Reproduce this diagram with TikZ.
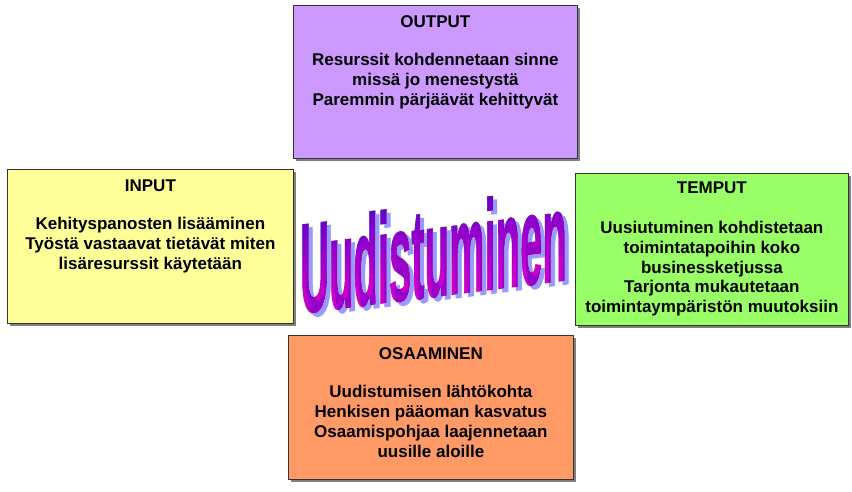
\documentclass[tikz,border=0pt]{standalone}
\usepackage{fontspec}
\setmainfont{Liberation Sans}
\newfontfamily\wordfont[FakeBold=1.5]{Liberation Sans Bold}
\usetikzlibrary{shadows}

\definecolor{outputfill}{HTML}{CC99FF}
\definecolor{inputfill}{HTML}{FFFF99}
\definecolor{temputfill}{HTML}{99FF66}
\definecolor{osaaminenfill}{HTML}{FF9966}
\definecolor{wordtop}{HTML}{6000CC}
\definecolor{wordbottom}{HTML}{CC00CC}
\definecolor{wordshadow}{HTML}{9999FF}

\begin{document}
\begin{tikzpicture}[
        x=1pt, y=-1pt,
        box/.style={draw=black!80, line width=0.8pt, inner sep=0pt, anchor=north west,
            drop shadow={shadow xshift=3pt, shadow yshift=-3pt, fill=black!50, opacity=1}},
        boxtext/.style={inner sep=0pt, anchor=north, align=center,
            font=\fontsize{17}{20}\selectfont\bfseries},
        word/.style={inner sep=0pt, anchor=base west, yscale=3.18, transform shape,
            font=\fontsize{40}{40}\selectfont\wordfont}
    ]
    \useasboundingbox (0,0) rectangle (852,491);

    \node[box, fill=outputfill, minimum width=284pt, minimum height=153pt] (output) at (293,5) {};
    \node[box, fill=inputfill, minimum width=286pt, minimum height=154pt] (input) at (7,169) {};
    \node[box, fill=temputfill, minimum width=273pt, minimum height=152pt] (temput) at (575,173) {};
    \node[box, fill=osaaminenfill, minimum width=285pt, minimum height=144pt] (osaaminen) at (288,335) {};

    \node[boxtext] (outputtext) at ([yshift=-10pt]output.north)
        {OUTPUT\\[18pt] Resurssit kohdennetaan sinne\\ missä jo menestystä\\ Paremmin pärjäävät kehittyvät};
    \node[boxtext] (inputtext) at ([yshift=-11pt]input.north)
        {INPUT\\[18pt] Kehityspanosten lisääminen\\ Työstä vastaavat tietävät miten\\ lisäresurssit käytetään};
    \node[boxtext, font=\fontsize{17}{19.7}\selectfont\bfseries] (temputtext) at ([yshift=-9pt]temput.north)
        {TEMPUT\\[20pt] Uusiutuminen kohdistetaan\\ toimintatapoihin koko\\ businessketjussa\\
         Tarjonta mukautetaan\\ toimintaympäristön muutoksiin};
    \node[boxtext] (osaaminentext) at ([yshift=-12pt]osaaminen.north)
        {OSAAMINEN\\[18pt] Uudistumisen lähtökohta\\ Henkisen pääoman kasvatus\\
         Osaamispohjaa laajennetaan\\ uusille aloille};

    % slanted word in the middle, shadow first, then the shaded letters
    \begin{scope}[shift={(300,313)}, yslant=0.125]
        \begin{scope}[shift={(4,4)}]
            \node[word, text=wordshadow] (wordshadow) at (0,0) {Uudistuminen};
        \end{scope}
        \begin{scope}[transparency group, blend mode=darken]
            \fill[white] (-6,-106) rectangle (275,14);
            \node[word, text=black] (word) at (0,0) {Uudistuminen};
            \fill[blend mode=lighten, wordbottom] (-3,-15) rectangle (272,8);
            \foreach \i in {0,...,16} {
                \pgfmathtruncatemacro{\mix}{100-100*\i/16}
                \fill[blend mode=lighten, wordtop!\mix!wordbottom]
                    (-3,{-100+5*\i}) rectangle (272,{-94.7+5*\i});
            }
        \end{scope}
    \end{scope}
\end{tikzpicture}
\end{document}
